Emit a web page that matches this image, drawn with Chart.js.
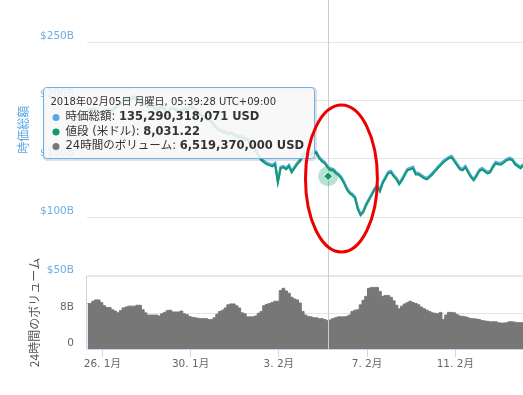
<!DOCTYPE html>
<html>
<head>
<meta charset="utf-8">
<script src="https://cdn.jsdelivr.net/npm/chart.js@4.4.1/dist/chart.umd.min.js"></script>
<style>
  html, body { margin: 0; padding: 0; background: #fff; }
  #wrap { width: 523px; height: 395px; }
</style>
</head>
<body>
<div id="wrap"><canvas id="chart" width="523" height="395"></canvas></div>
<script>
// time axis: days counted from 1 Jan 2018 (JST), one sample every 3 hours
const startDay = 25 + 8 / 24;
const stepDay = 3 / 24;

// 時価総額 (billions of USD)
const marketCap = [
  191.0, 192.7, 193.6, 191.9, 191.0, 189.3, 191.0, 192.7, 191.0, 191.9,
  194.4, 196.2, 197.9, 200.4, 201.3, 203.0, 202.1, 203.8, 201.3, 198.7,
  199.6, 197.0, 195.3, 197.0, 194.4, 192.7, 194.4, 195.3, 192.7, 191.0,
  193.6, 194.4, 192.7, 191.0, 191.9, 193.6, 192.7, 194.4, 195.3, 192.7,
  190.2, 188.5, 186.8, 185.0, 184.2, 182.5, 179.1, 176.5, 175.6, 173.9,
  173.9, 172.2, 173.1, 171.4, 170.5, 169.7, 169.7, 167.9, 167.1, 164.5,
  162.0, 157.7, 153.4, 150.0, 148.3, 146.6, 145.7, 144.9, 146.6, 131.2,
  143.2, 144.0, 142.3, 144.9, 139.7, 143.2, 146.6, 149.1, 153.4, 156.0,
  156.0, 154.3, 156.8, 156.0, 151.7, 149.1, 147.4, 144.0, 141.5, 141.5,
  138.9, 137.2, 134.6, 130.3, 125.2, 121.8, 120.1, 117.5, 108.1, 103.0,
  105.6, 111.5, 115.8, 120.1, 124.4, 127.8, 123.5, 130.3, 134.6, 138.9,
  139.7, 136.3, 133.8, 129.5, 132.9, 137.2, 141.5, 142.3, 143.2, 138.0,
  138.0, 136.3, 134.6, 133.8, 135.5, 138.0, 140.6, 143.2, 145.7, 148.3,
  150.0, 151.7, 152.6, 149.1, 145.7, 142.3, 141.5, 144.0, 139.7, 135.5,
  132.9, 136.3, 140.6, 142.3, 140.6, 138.9, 139.7, 144.0, 147.4, 146.6,
  146.6, 148.3, 150.0, 150.9, 150.0, 146.6, 144.9, 143.2, 145.7, 144.9
];

// 値段 (米ドル)
const priceUsd = [
  11340, 11440, 11490, 11390, 11340, 11240, 11340, 11440, 11340, 11390,
  11540, 11650, 11750, 11900, 11950, 12050, 12000, 12100, 11950, 11800,
  11850, 11700, 11600, 11700, 11540, 11440, 11540, 11600, 11440, 11340,
  11490, 11540, 11440, 11340, 11390, 11490, 11440, 11540, 11600, 11440,
  11290, 11190, 11090, 10980, 10940, 10840, 10630, 10480, 10430, 10320,
  10320, 10220, 10280, 10180, 10120, 10080, 10080, 9970, 9920, 9770,
  9620, 9360, 9110, 8910, 8800, 8700, 8650, 8600, 8700, 7790,
  8500, 8550, 8450, 8600, 8290, 8500, 8700, 8850, 9110, 9260,
  9260, 9160, 9310, 9260, 9010, 8850, 8750, 8550, 8400, 8400,
  8250, 8150, 7990, 7740, 7430, 7230, 7130, 6980, 6420, 6120,
  6270, 6620, 6880, 7130, 7390, 7590, 7330, 7740, 7990, 8250,
  8290, 8090, 7940, 7690, 7890, 8150, 8400, 8450, 8500, 8190,
  8190, 8090, 7990, 7940, 8050, 8190, 8350, 8500, 8650, 8800,
  8910, 9010, 9060, 8850, 8650, 8450, 8400, 8550, 8290, 8050,
  7890, 8090, 8350, 8450, 8350, 8250, 8290, 8550, 8750, 8700,
  8700, 8800, 8910, 8960, 8910, 8700, 8600, 8500, 8650, 8600
];

// 24時間のボリューム (billions of USD)
const volume = [
  10.2, 10.2, 10.7, 11.0, 11.0, 10.4, 9.7, 9.3, 9.3, 8.8,
  8.5, 8.1, 8.6, 9.2, 9.4, 9.6, 9.6, 9.6, 9.8, 9.8,
  8.8, 8.1, 7.6, 7.6, 7.6, 7.6, 7.4, 7.9, 8.2, 8.6,
  8.7, 8.3, 8.3, 8.3, 8.5, 7.9, 7.7, 7.3, 7.1, 7.0,
  6.9, 6.8, 6.8, 6.8, 6.6, 6.6, 7.0, 7.8, 8.4, 8.7,
  9.2, 9.9, 10.1, 10.1, 9.7, 9.2, 8.1, 7.9, 7.2, 7.2,
  7.2, 7.4, 8.0, 8.4, 9.7, 10.0, 10.2, 10.4, 10.7, 10.7,
  13.1, 13.6, 13.0, 12.5, 11.6, 11.2, 11.0, 10.3, 8.4, 7.6,
  7.3, 7.2, 7.0, 7.0, 6.8, 6.8, 6.6, 6.4, 6.5, 6.8,
  7.0, 7.2, 7.2, 7.2, 7.3, 7.6, 8.4, 8.7, 8.8, 9.9,
  10.9, 11.8, 13.6, 13.8, 13.8, 13.8, 12.9, 11.8, 12.0, 12.0,
  11.6, 10.8, 9.8, 9.0, 9.6, 10.1, 10.4, 10.7, 10.4, 10.2,
  9.9, 9.4, 9.0, 8.7, 8.4, 8.1, 8.0, 7.9, 8.2, 6.6,
  7.6, 8.2, 8.2, 8.1, 7.7, 7.4, 7.3, 7.2, 7.0, 6.8,
  6.8, 6.7, 6.6, 6.4, 6.3, 6.2, 6.1, 6.1, 6.1, 5.9,
  5.8, 5.8, 5.9, 6.1, 6.1, 6.0, 5.9, 5.9, 5.9, 5.9
];

const dayTicks = [26, 30, 34, 38, 42];
const capTicks = [50, 100, 150, 200, 250];
const volTicks = [0, 8];

// hovered point shown in the tooltip
const hoverDay = 36 + (5 + 39 / 60 + 28 / 3600) / 24;
const hoverTitle = "2018年02月05日 月曜日, 05:39:28 UTC+09:00";
const hoverCapUsd = 135290318071;
const hoverPrice = 8031.22;
const hoverVolumeUsd = 6519370000;

const CAP_BLUE = '#5aa8e4';
const PRICE_GREEN = '#0f9a72';
const VOL_GREY = '#777777';
const GRID = '#e6e6e6';
const AXIS = '#ccd6eb';
const FONT = '"DejaVu Sans", "Noto Sans CJK JP", sans-serif';

const CAP_MIN = -12.4, CAP_MAX = 285.9;
const VOL_MAX = 78.2;
const capPerDollar = hoverCapUsd / 1e9 / hoverPrice;
const greenShift = 1.2; // green line sits a hair under the blue one

const xy = arr => arr.map((v, i) => ({ x: startDay + i * stepDay, y: v }));
const num = v => Math.round(v).toLocaleString('en-US');

function dayLabel(d) {
  return d > 31 ? (d - 31) + '. 2月' : d + '. 1月';
}

const overlay = {
  id: 'overlay',
  beforeDatasetsDraw(chart) {
    // volume pane grid line (under the area)
    const { ctx, chartArea, scales } = chart;
    ctx.save();
    ctx.strokeStyle = GRID;
    ctx.lineWidth = 1;
    volTicks.filter(v => v > 0).forEach(v => {
      const y = Math.round(scales.yVol.getPixelForValue(v)) + 0.5;
      ctx.beginPath();
      ctx.moveTo(chartArea.left, y);
      ctx.lineTo(chartArea.right, y);
      ctx.stroke();
    });
    ctx.restore();
  },
  afterDatasetDraw(chart, args) {
    if (chart.data.datasets[args.index].label !== 'volume') return;
    const { ctx, chartArea, scales } = chart;
    const x = Math.round(scales.x.getPixelForValue(hoverDay)) + 0.5;
    ctx.save();
    ctx.strokeStyle = '#cccccc';
    ctx.lineWidth = 1;
    ctx.beginPath();
    ctx.moveTo(x, chartArea.top);
    ctx.lineTo(x, chartArea.bottom);
    ctx.stroke();
    ctx.restore();
  },
  afterDraw(chart) {
    const { ctx, chartArea, scales } = chart;
    const yCap = scales.yCap;
    ctx.save();

    // volume pane left axis line and tick labels
    const paneTop = yCap.getPixelForValue(50);
    ctx.strokeStyle = AXIS;
    ctx.lineWidth = 1;
    ctx.beginPath();
    ctx.moveTo(chartArea.left - 0.5, paneTop);
    ctx.lineTo(chartArea.left - 0.5, chartArea.bottom);
    ctx.stroke();
    ctx.font = '10.5px ' + FONT;
    ctx.fillStyle = '#666666';
    ctx.textAlign = 'right';
    ctx.textBaseline = 'middle';
    volTicks.forEach(v => {
      ctx.fillText(v === 0 ? '0' : v + 'B', chartArea.left - 13, scales.yVol.getPixelForValue(v) - 6);
    });

    // axis titles
    const capMid = (yCap.getPixelForValue(300) + paneTop) / 2;
    const volMid = (paneTop + chartArea.bottom) / 2;
    ctx.textAlign = 'center';
    ctx.textBaseline = 'middle';
    ctx.save();
    ctx.translate(23, capMid);
    ctx.rotate(-Math.PI / 2);
    ctx.font = '12px "Noto Sans CJK JP", sans-serif';
    ctx.fillStyle = '#5aa8e4';
    ctx.fillText('時価総額', 0, 0);
    ctx.restore();
    ctx.save();
    ctx.translate(34, volMid);
    ctx.rotate(-Math.PI / 2);
    ctx.font = '12px "Noto Sans CJK JP", sans-serif';
    ctx.fillStyle = '#555555';
    ctx.fillText('24時間のボリューム', 0, 0);
    ctx.restore();

    // tooltip
    const px = scales.x.getPixelForValue(hoverDay);
    const py = yCap.getPixelForValue(hoverCapUsd / 1e9);
    const rows = [
      { color: CAP_BLUE, label: '時価総額: ', value: num(hoverCapUsd) + ' USD' },
      { color: PRICE_GREEN, label: '値段 (米ドル): ', value: hoverPrice.toLocaleString('en-US', { minimumFractionDigits: 2 }) },
      { color: VOL_GREY, label: '24時間のボリューム: ', value: num(hoverVolumeUsd) + ' USD' }
    ];
    const headFont = '10px ' + FONT;
    const normFont = '11.5px ' + FONT;
    const boldFont = 'bold 11.5px ' + FONT;
    ctx.font = headFont;
    let w = ctx.measureText(hoverTitle).width;
    rows.forEach(r => {
      ctx.font = normFont; r.lw = ctx.measureText(r.label).width;
      ctx.font = boldFont; r.vw = ctx.measureText(r.value).width;
      w = Math.max(w, 15 + r.lw + r.vw);
    });
    const boxW = Math.round(w + 18), boxH = 71;
    const right = Math.round(px - 14) + 0.5;
    const top = Math.round(py - 89) + 0.5;
    const left = right - boxW;
    const rr = (x, y, ww, hh, r) => {
      ctx.beginPath();
      ctx.moveTo(x + r, y);
      ctx.arcTo(x + ww, y, x + ww, y + hh, r);
      ctx.arcTo(x + ww, y + hh, x, y + hh, r);
      ctx.arcTo(x, y + hh, x, y, r);
      ctx.arcTo(x, y, x + ww, y, r);
      ctx.closePath();
    };
    rr(left + 1, top + 1, boxW, boxH, 3);
    ctx.strokeStyle = 'rgba(0,0,0,0.12)';
    ctx.lineWidth = 3;
    ctx.stroke();
    rr(left, top, boxW, boxH, 3);
    ctx.fillStyle = 'rgba(247,247,247,0.88)';
    ctx.fill();
    ctx.strokeStyle = '#6cb2ea';
    ctx.lineWidth = 1;
    ctx.stroke();

    ctx.textAlign = 'left';
    ctx.textBaseline = 'middle';
    ctx.fillStyle = '#333333';
    ctx.font = headFont;
    ctx.fillText(hoverTitle, left + 7, top + 14.5);
    rows.forEach((r, i) => {
      const y = top + 30 + i * 14.5;
      ctx.fillStyle = r.color;
      ctx.beginPath();
      ctx.arc(left + 12.5, y, 3.5, 0, Math.PI * 2);
      ctx.fill();
      ctx.fillStyle = '#333333';
      ctx.font = normFont;
      ctx.fillText(r.label, left + 22, y);
      ctx.font = boldFont;
      ctx.fillText(r.value, left + 22 + r.lw, y);
    });

    // red ellipse drawn around the drop
    const cx = scales.x.getPixelForValue(36.84);
    const cy = yCap.getPixelForValue(133.3);
    const rx = scales.x.getPixelForValue(36.84 + 1.63) - cx;
    const ry = cy - yCap.getPixelForValue(133.3 + 62.8);
    ctx.strokeStyle = '#ee0000';
    ctx.lineWidth = 3;
    ctx.beginPath();
    ctx.ellipse(cx, cy, rx, ry, 0, 0, Math.PI * 2);
    ctx.stroke();

    ctx.restore();
  }
};

new Chart(document.getElementById('chart'), {
  type: 'line',
  data: {
    datasets: [
      {
        label: 'marker',
        data: [{ x: hoverDay, y: hoverCapUsd / 1e9 }],
        yAxisID: 'yCap',
        showLine: false,
        pointStyle: 'rectRot',
        pointRadius: 4.5,
        pointBackgroundColor: PRICE_GREEN,
        pointBorderColor: '#ffffff',
        pointBorderWidth: 1
      },
      {
        label: 'halo',
        data: [{ x: hoverDay, y: hoverCapUsd / 1e9 }],
        yAxisID: 'yCap',
        showLine: false,
        pointRadius: 10,
        pointBackgroundColor: 'rgba(15,154,114,0.3)',
        pointBorderWidth: 0,
        pointBorderColor: 'rgba(0,0,0,0)'
      },
      {
        label: '値段 (米ドル)',
        data: xy(priceUsd),
        yAxisID: 'yPrice',
        borderColor: PRICE_GREEN,
        borderWidth: 2,
        pointRadius: 0,
        tension: 0,
        fill: false
      },
      {
        label: '時価総額',
        data: xy(marketCap),
        yAxisID: 'yCap',
        borderColor: CAP_BLUE,
        borderWidth: 2.5,
        pointRadius: 0,
        tension: 0,
        fill: false
      },
      {
        label: 'volume',
        data: xy(volume),
        yAxisID: 'yVol',
        borderColor: VOL_GREY,
        backgroundColor: VOL_GREY,
        borderWidth: 1,
        pointRadius: 0,
        stepped: 'middle',
        fill: 'origin'
      }
    ]
  },
  options: {
    responsive: false,
    animation: false,
    devicePixelRatio: 1,
    layout: { padding: 0, autoPadding: false },
    plugins: { legend: { display: false }, tooltip: { enabled: false } },
    events: [],
    scales: {
      x: {
        type: 'linear',
        min: 25.306,
        max: 45.07,
        afterBuildTicks: s => { s.ticks = dayTicks.map(v => ({ value: v })); },
        afterFit: s => { s.height = 46; s.paddingLeft = 0; s.paddingRight = 0; },
        grid: { drawOnChartArea: false, drawTicks: true, tickLength: 8, color: AXIS },
        border: { color: AXIS },
        ticks: {
          autoSkip: false,
          maxRotation: 0,
          padding: 1,
          color: '#666666',
          font: { family: FONT, size: 10.5 },
          callback: v => dayLabel(v)
        }
      },
      yCap: {
        position: 'left',
        min: CAP_MIN,
        max: CAP_MAX,
        afterBuildTicks: s => { s.ticks = capTicks.map(v => ({ value: v })); },
        afterFit: s => { s.width = 87; s.paddingTop = 0; s.paddingBottom = 0; },
        grid: {
          drawTicks: false,
          color: GRID,
          lineWidth: c => (c.tick && c.tick.value === 50 ? 2 : 1)
        },
        border: { display: false },
        ticks: {
          autoSkip: false,
          padding: 13,
          labelOffset: -6,
          color: '#6aaee6',
          font: { family: FONT, size: 10.5 },
          callback: v => '$' + v + 'B'
        }
      },
      yVol: {
        display: false,
        min: 0,
        max: VOL_MAX
      },
      yPrice: {
        display: false,
        min: (CAP_MIN + greenShift) / capPerDollar,
        max: (CAP_MAX + greenShift) / capPerDollar
      }
    }
  },
  plugins: [overlay]
});
</script>
</body>
</html>
